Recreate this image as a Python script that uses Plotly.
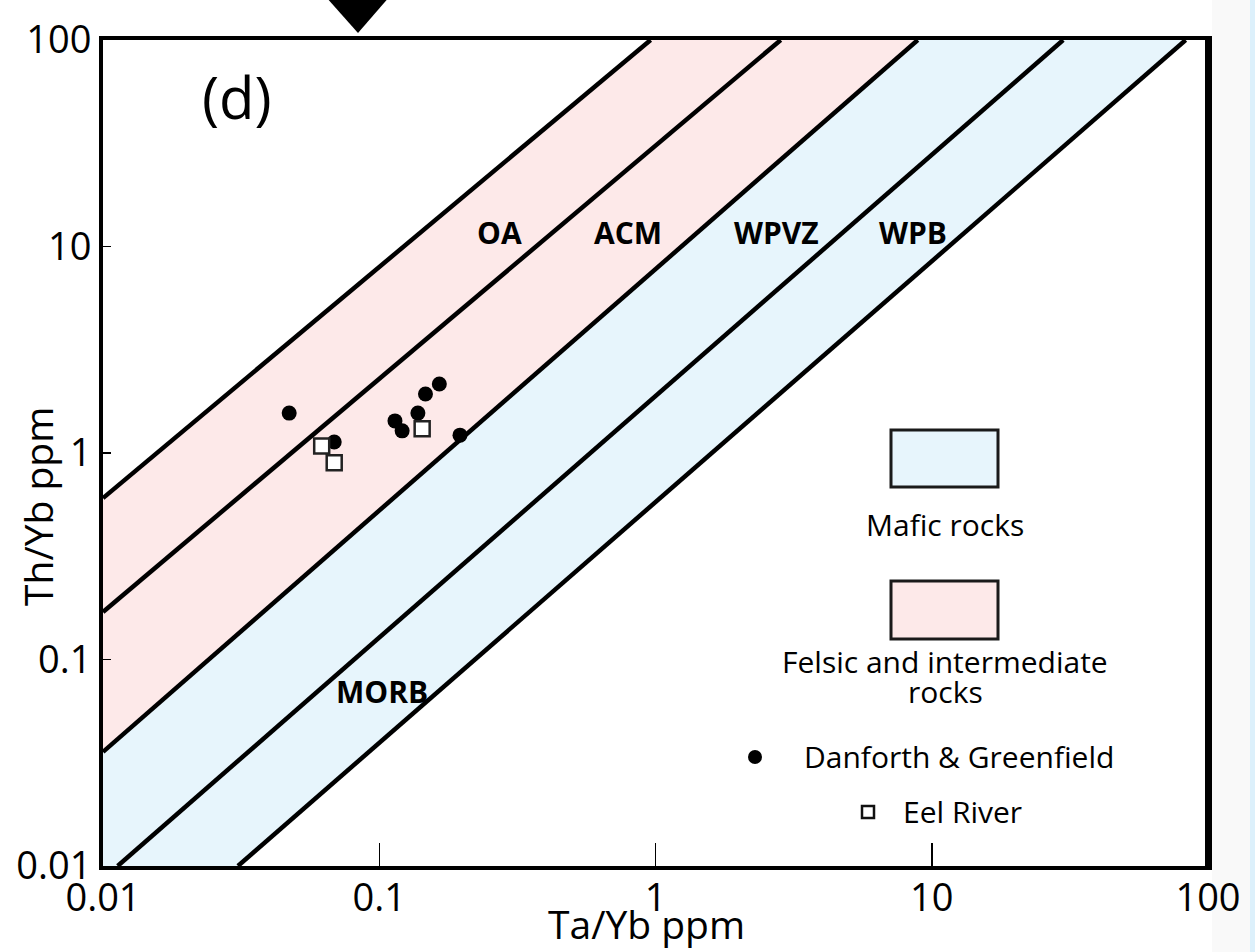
import numpy as np
import plotly.graph_objects as go

# ---------------- data ----------------
# Danforth & Greenfield samples
df_ta_yb = [0.0472, 0.0687, 0.114, 0.121, 0.138, 0.147, 0.165, 0.196]
df_th_yb = [1.56, 1.13, 1.43, 1.28, 1.56, 1.93, 2.16, 1.22]
# Eel River samples
eel_ta_yb = [0.0619, 0.0687, 0.143]
eel_th_yb = [1.08, 0.897, 1.31]

# Field boundary lines (start / end points in Ta/Yb, Th/Yb)
line_x0 = [0.01, 0.01, 0.01, 0.0113, 0.0308]
line_y0 = [0.605, 0.17, 0.0357, 0.01, 0.01]
line_x1 = [0.96, 2.84, 8.9, 29.9, 83.0]
line_y1 = [100, 100, 100, 100, 100]

# field labels
zone_names = ["OA", "ACM", "WPVZ", "WPB", "MORB"]
zone_x = [0.272, 0.792, 2.74, 8.53, 0.1026]
zone_y = [11.75, 11.75, 11.75, 11.75, 0.0697]

tick_vals = [0.01, 0.1, 1, 10, 100]
tick_text = ["0.01", "0.1", "1", "10", "100"]

PINK = "#fde9e9"
BLUE = "#e7f5fc"
FONT = "Open Sans"

fig = go.Figure()

# felsic / intermediate field (between line 1 and line 3)
fig.add_trace(go.Scatter(
    x=[line_x0[0], line_x1[0], line_x1[2], line_x0[2], line_x0[0]],
    y=[line_y0[0], line_y1[0], line_y1[2], line_y0[2], line_y0[0]],
    mode="lines", fill="toself", fillcolor=PINK, line=dict(width=0),
    hoverinfo="skip", showlegend=False))
# mafic field (between line 3 and line 5)
fig.add_trace(go.Scatter(
    x=[line_x0[2], line_x1[2], line_x1[4], line_x0[4], line_x0[3], 0.01, line_x0[2]],
    y=[line_y0[2], line_y1[2], line_y1[4], line_y0[4], line_y0[3], 0.01, line_y0[2]],
    mode="lines", fill="toself", fillcolor=BLUE, line=dict(width=0),
    hoverinfo="skip", showlegend=False))

# boundary lines
for a, b, c, d in zip(line_x0, line_y0, line_x1, line_y1):
    fig.add_trace(go.Scatter(x=[a, c], y=[b, d], mode="lines",
                             line=dict(color="black", width=4.5),
                             hoverinfo="skip", showlegend=False))

# samples
fig.add_trace(go.Scatter(x=df_ta_yb, y=df_th_yb, mode="markers",
                         marker=dict(symbol="circle", size=15, color="black"),
                         name="Danforth & Greenfield", showlegend=False))
fig.add_trace(go.Scatter(x=eel_ta_yb, y=eel_th_yb, mode="markers",
                         marker=dict(symbol="square", size=15, color="white",
                                     line=dict(color="#222", width=2.5)),
                         name="Eel River", showlegend=False))

annotations = []
for name, zx, zy in zip(zone_names, zone_x, zone_y):
    annotations.append(dict(x=np.log10(zx), y=np.log10(zy), xref="x", yref="y",
                            text=f"<b>{name}</b>", showarrow=False,
                            font=dict(family=FONT, size=30, color="black")))


def px(x):
    return (x - 103) / 1105


def py(y):
    return (866 - y) / 826


def ann(text, x, y, size, angle=0):
    annotations.append(dict(x=px(x), y=py(y),
                            xref="paper", yref="paper", text=text,
                            showarrow=False, textangle=angle,
                            xanchor="center", yanchor="middle",
                            font=dict(family=FONT, size=size, color="black")))


ann("(d)", 237, 96, 58)
ann("Ta/Yb ppm", 646, 923, 39)
ann("Th/Yb ppm", 37, 507, 39, -90)
ann("Mafic rocks", 945, 524, 30)
ann("Felsic and intermediate", 945, 661, 30)
ann("rocks", 945, 691, 30)
ann("Danforth &amp; Greenfield", 959, 756, 30)
ann("Eel River", 962, 811, 30)

shapes = [
    # background strips right of the frame
    dict(type="rect", xref="paper", yref="paper", x0=px(1212), x1=px(1250),
         y0=py(960), y1=py(-10), fillcolor="#f9f9f9", line=dict(width=0), layer="below"),
    dict(type="rect", xref="paper", yref="paper", x0=px(1250), x1=px(1262),
         y0=py(960), y1=py(-10), fillcolor="#dcf0fb", line=dict(width=0), layer="below"),
    # legend swatches
    dict(type="rect", xref="paper", yref="paper", x0=px(891), x1=px(998),
         y0=py(487), y1=py(430), fillcolor=BLUE, line=dict(color="#1a1a1a", width=3)),
    dict(type="rect", xref="paper", yref="paper", x0=px(891), x1=px(998),
         y0=py(639), y1=py(581), fillcolor=PINK, line=dict(color="#1a1a1a", width=3)),
    # legend markers
    dict(type="circle", xref="paper", yref="paper", xsizemode="pixel", ysizemode="pixel",
         xanchor=px(755), yanchor=py(757), x0=-7, x1=7, y0=-7, y1=7,
         fillcolor="black", line=dict(width=0)),
    dict(type="rect", xref="paper", yref="paper", xsizemode="pixel", ysizemode="pixel",
         xanchor=px(868), yanchor=py(812), x0=-6, x1=6, y0=-6, y1=6,
         fillcolor="white", line=dict(color="#111", width=2.5)),
    # black pointer triangle at top
    dict(type="path", xref="paper", yref="paper",
         path=f"M {px(318)} {py(-12)} L {px(397)} {py(-12)} L {px(358)} {py(33)} Z",
         fillcolor="black", line=dict(width=0)),
    # thicker right frame edge
    dict(type="line", xref="paper", yref="paper", x0=1, x1=1, y0=0, y1=1,
         line=dict(color="black", width=6)),
]

fig.update_layout(
    width=1255, height=952,
    margin=dict(l=103, r=47, t=40, b=86),
    paper_bgcolor="white", plot_bgcolor="white",
    font=dict(family=FONT, color="black"),
    annotations=annotations, shapes=shapes,
    showlegend=False,
)
fig.update_xaxes(type="log", range=[-2, 2], tickvals=tick_vals, ticktext=tick_text,
                 showgrid=False, zeroline=False, showline=True, mirror=True,
                 linecolor="black", linewidth=4, ticks="inside", ticklen=23,
                 tickwidth=1.5, tickcolor="black", ticklabelstandoff=-5,
                 tickfont=dict(family=FONT, size=38, color="black"))
fig.update_yaxes(type="log", range=[-2, 2], tickvals=tick_vals, ticktext=tick_text,
                 showgrid=False, zeroline=False, showline=True, mirror=True,
                 linecolor="black", linewidth=4, ticks="inside", ticklen=8,
                 tickwidth=1.5, tickcolor="black",
                 tickfont=dict(family=FONT, size=38, color="black"))

# remove the browser's default page margin so the figure sits at the window's corner
fig.write_html(
    "out.html",
    config={"displayModeBar": False, "staticPlot": True},
    post_script="document.body.style.margin='0';document.body.style.padding='0';"
                "document.body.style.overflow='hidden';",
)
